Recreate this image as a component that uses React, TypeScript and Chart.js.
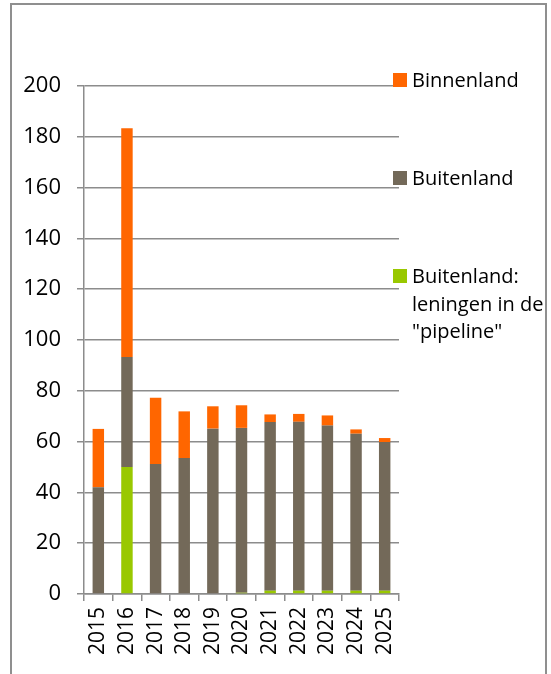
import React, { useEffect, useRef } from "react";
import { Chart, registerables } from "chart.js";

Chart.register(...registerables);

// ---- data ----
const years = ["2015", "2016", "2017", "2018", "2019", "2020", "2021", "2022", "2023", "2024", "2025"];
const pipeline = [0, 50, 0, 0, 0, 0.5, 1.3, 1.3, 1.3, 1.3, 1.3];
const buitenland = [42, 43.3, 51.2, 53.5, 65.1, 64.9, 66.4, 66.5, 65.0, 61.8, 58.5];
const binnenland = [23, 90.1, 26.1, 18.4, 8.8, 8.9, 3.0, 3.1, 4.0, 1.7, 1.6];
const yMin = 0;
const yMax = 200;
const yStep = 20;

const seriesLabels: string[][] = [
  ["Buitenland:", "leningen in de", "\"pipeline\""],
  ["Buitenland"],
  ["Binnenland"],
];
const seriesColors = ["#99C800", "#736959", "#FF6600"];
const seriesValues = [pipeline, buitenland, binnenland];

const GRID = "#8c8c8c";
const FONT = "'Open Sans', 'DejaVu Sans', sans-serif";

export default function App() {
  const ref = useRef<HTMLCanvasElement | null>(null);

  useEffect(() => {
    if (!ref.current) return;
    const chart = new Chart(ref.current, {
      type: "bar",
      data: {
        labels: years,
        datasets: seriesValues.map((vals, i) => ({
          label: seriesLabels[i].join(" "),
          data: vals,
          backgroundColor: seriesColors[i],
          borderWidth: 0,
          barPercentage: 0.4,
          categoryPercentage: 1,
        })),
      },
      options: {
        responsive: false,
        animation: false,
        devicePixelRatio: 1,
        layout: { padding: { left: 0, right: 152, top: 86, bottom: 0 } },
        plugins: { legend: { display: false }, tooltip: { enabled: false } },
        scales: {
          x: {
            stacked: true,
            afterFit: (s: any) => {
              s.height = 80;
            },
            grid: {
              display: true,
              drawOnChartArea: false,
              drawTicks: true,
              tickLength: 7,
              offset: true,
              color: GRID,
              lineWidth: 1.5,
            },
            border: { display: true, color: GRID, width: 1.5 },
            ticks: {
              maxRotation: 90,
              minRotation: 90,
              padding: 6,
              color: "#000",
              font: { family: FONT, size: 21 },
              autoSkip: false,
            },
          },
          y: {
            stacked: true,
            min: yMin,
            max: yMax,
            afterFit: (s: any) => {
              s.width = 84;
            },
            grid: {
              color: GRID,
              lineWidth: 1.5,
              drawTicks: true,
              tickLength: 7,
            },
            border: { display: true, color: GRID, width: 1.5 },
            ticks: {
              stepSize: yStep,
              padding: 16,
              color: "#000",
              font: { family: FONT, size: 22 },
            },
          },
        },
      },
    });
    return () => chart.destroy();
  }, []);

  const legendOrder = [2, 1, 0];
  const legendTops = [80, 178, 276];

  return (
    <div style={{ position: "fixed", left: 0, top: 0, width: 551, height: 674, background: "#fff", overflow: "hidden" }}>
      <div
        style={{
          position: "absolute",
          left: 10,
          top: 3,
          width: 537,
          height: 720,
          border: "2px solid #8f8f8f",
          boxSizing: "border-box",
        }}
      />
      <canvas ref={ref} width={551} height={674} style={{ position: "absolute", left: 0, top: 0 }} />
      {legendOrder.map((idx, k) => (
        <div key={idx} style={{ position: "absolute", left: 393, top: legendTops[k] - 14, fontFamily: FONT, fontSize: 20, color: "#000" }}>
          <div
            style={{
              position: "absolute",
              left: 0,
              top: 7,
              width: 14,
              height: 14,
              background: seriesColors[idx],
            }}
          />
          <div style={{ position: "absolute", left: 19, top: 0, lineHeight: "27.5px", whiteSpace: "nowrap" }}>
            {seriesLabels[idx].map((line, j) => (
              <div key={j}>{line}</div>
            ))}
          </div>
        </div>
      ))}
    </div>
  );
}
